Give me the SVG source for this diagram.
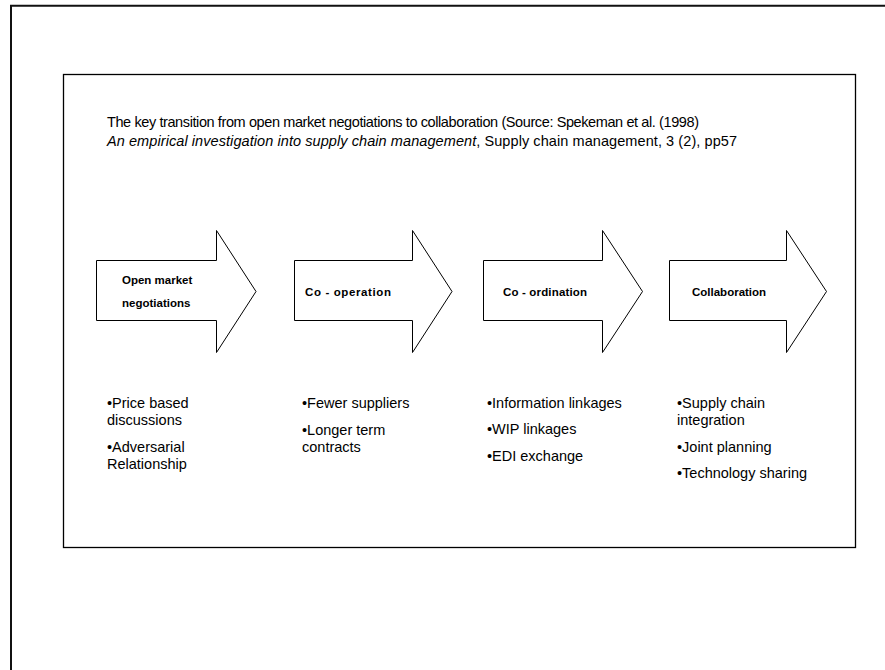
<svg xmlns="http://www.w3.org/2000/svg" width="885" height="670" viewBox="0 0 885 670">
  <style>
    text { font-family: "Liberation Sans", Arial, sans-serif; fill: #000; }
    .cap { font-size: 14.5px; }
    .lbl { font-size: 11.5px; font-weight: bold; }
    .pt { font-size: 14.5px; }
    .arrow { fill: #fff; stroke: #000; stroke-width: 1; }
    .frame { fill: none; stroke: #111; stroke-width: 2; }
    .panel { fill: #fff; stroke: #000; stroke-width: 1.3; }
  </style>
  <rect width="885" height="670" fill="#fff"/>

  <!-- page frame: top and left edges only -->
  <path class="frame" d="M11 670 V5.8 H885"/>

  <!-- content panel -->
  <rect class="panel" x="63.5" y="74.5" width="792" height="473"/>

  <!-- caption -->
  <g id="caption">
    <text class="cap" x="107" y="127" font-size="14px" textLength="592" lengthAdjust="spacing">The key transition from open market negotiations to collaboration (Source: Spekeman et al. (1998)</text>
    <text class="cap" x="107" y="146" textLength="630" lengthAdjust="spacing"><tspan font-style="italic">An empirical investigation into supply chain management</tspan>, Supply chain management, 3 (2), pp57</text>
  </g>

  <!-- stage arrows -->
  <g id="stage-open-market">
    <path class="arrow" d="M96.5 260.5 H216.5 V230.5 L256 291.5 L216.5 352.5 V320.5 H96.5 Z"/>
    <text class="lbl" x="122" y="284">Open market</text>
    <text class="lbl" x="122" y="307">negotiations</text>
  </g>
  <g id="stage-cooperation">
    <path class="arrow" d="M294.5 260.5 H412.5 V230.5 L452 291.5 L412.5 352.5 V320.5 H294.5 Z"/>
    <text class="lbl" x="305" y="296" textLength="86" lengthAdjust="spacing">Co - operation</text>
  </g>
  <g id="stage-coordination">
    <path class="arrow" d="M483.5 260.5 H602.5 V230.5 L642.5 291.5 L602.5 352.5 V320.5 H483.5 Z"/>
    <text class="lbl" x="503" y="296" textLength="84" lengthAdjust="spacing">Co - ordination</text>
  </g>
  <g id="stage-collaboration">
    <path class="arrow" d="M669.5 260.5 H786.5 V230.5 L826.5 291.5 L786.5 352.5 V320.5 H669.5 Z"/>
    <text class="lbl" x="692" y="296">Collaboration</text>
  </g>

  <g id="connectors"></g>

  <!-- characteristics of each stage -->
  <g id="points-open-market">
    <text class="pt" x="107" y="407.7">•Price based</text>
    <text class="pt" x="107" y="425">discussions</text>
    <text class="pt" x="107" y="451.7">•Adversarial</text>
    <text class="pt" x="107" y="469">Relationship</text>
  </g>
  <g id="points-cooperation">
    <text class="pt" x="302" y="407.7">•Fewer suppliers</text>
    <text class="pt" x="302" y="434.5">•Longer term</text>
    <text class="pt" x="302" y="452">contracts</text>
  </g>
  <g id="points-coordination">
    <text class="pt" x="487" y="407.7">•Information linkages</text>
    <text class="pt" x="487" y="434.4">•WIP linkages</text>
    <text class="pt" x="487" y="461">•EDI exchange</text>
  </g>
  <g id="points-collaboration">
    <text class="pt" x="677" y="407.7">•Supply chain</text>
    <text class="pt" x="677" y="425">integration</text>
    <text class="pt" x="677" y="451.7">•Joint planning</text>
    <text class="pt" x="677" y="478.4">•Technology sharing</text>
  </g>
</svg>
